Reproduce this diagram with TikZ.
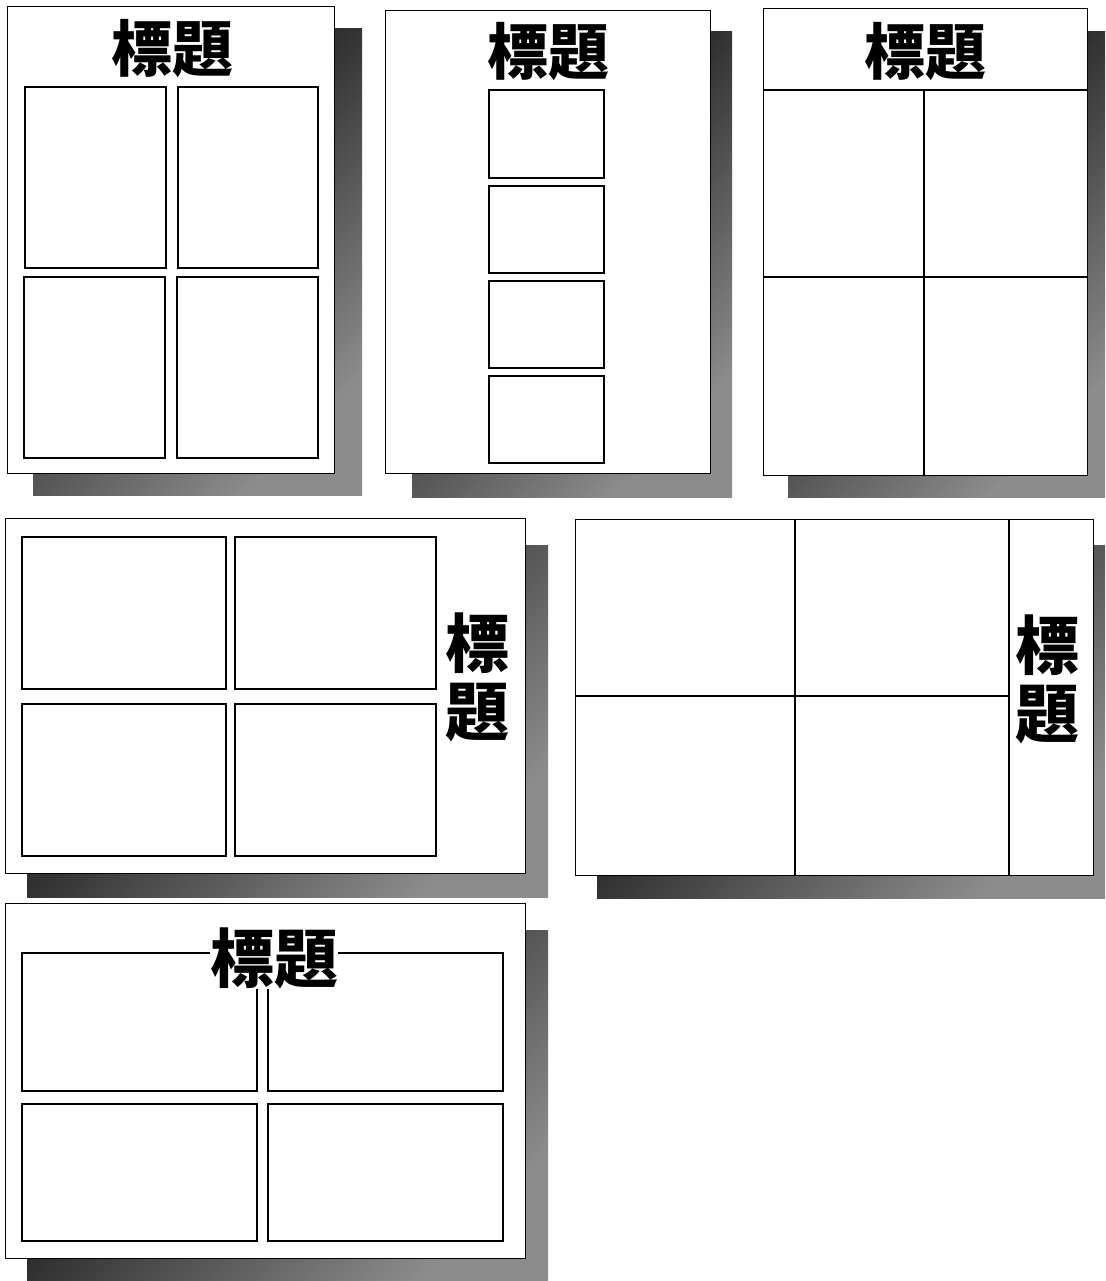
\documentclass[tikz,border=0pt]{standalone}
\usepackage{fontspec}
\newfontfamily\cjk{Noto Sans CJK JP}

\begin{document}
\begin{tikzpicture}[x=1pt, y=-1pt,
    pageshade/.style={top color=black, bottom color=black!45, shading angle=45, draw=none},
    page/.style={draw=black, fill=white, line width=1pt},
    panel/.style={draw=black, line width=1.2pt},
    divider/.style={draw=black, line width=1.1pt},
    title/.style={font=\cjk\bfseries\fontsize{61}{66}\selectfont, inner sep=0pt, text=black},
    vtitle/.style={title, font=\cjk\bfseries\fontsize{64}{68}\selectfont, align=center}
  ]
  \useasboundingbox (0,0) rectangle (1105,1281);

  % layout 1: title above four framed panels
  \shade[pageshade] (33,29) rectangle (362,495);
  \draw[page] (7,7) rectangle (334,473);
  \draw[panel] (25,87) rectangle (166,268);
  \draw[panel] (178,87) rectangle (318,268);
  \draw[panel] (24,277) rectangle (165,458);
  \draw[panel] (177,277) rectangle (318,458);
  \node[title] (head1) at (172,49) {標題};

  % layout 2: title above a column of panels
  \shade[pageshade] (412,32) rectangle (732,497);
  \draw[page] (385,11) rectangle (710,473);
  \foreach \top/\bot in {90/178, 186/273, 281/368, 376/463}
    \draw[panel] (489,\top) rectangle (604,\bot);
  \node[title] (head2) at (548,52) {標題};

  % layout 3: title band, page split in four
  \shade[pageshade] (788,32) rectangle (1105,497);
  \draw[page] (763,9) rectangle (1087,475);
  \draw[divider] (763,90) -- (1087,90);
  \draw[divider] (924,90) -- (924,475);
  \draw[divider] (763,277) -- (1087,277);
  \node[title] (head3) at (925,52) {標題};

  % layout 4: landscape, vertical title at the right
  \shade[pageshade] (27,545) rectangle (548,897);
  \draw[page] (5,518) rectangle (525,873);
  \draw[panel] (22,537) rectangle (226,689);
  \draw[panel] (235,537) rectangle (436,689);
  \draw[panel] (22,704) rectangle (226,856);
  \draw[panel] (235,704) rectangle (436,856);
  \node[vtitle] (head4) at (477,677) {標\\題};

  % layout 5: landscape split in four, title column
  \shade[pageshade] (597,545) rectangle (1105,898);
  \draw[page] (575,519) rectangle (1093,875);
  \draw[divider] (795,519) -- (795,875);
  \draw[divider] (1009,519) -- (1009,875);
  \draw[divider] (575,696) -- (1009,696);
  \node[vtitle] (head5) at (1047,679) {標\\題};

  % layout 6: title laid over the top panels
  \shade[pageshade] (27,930) rectangle (548,1281);
  \draw[page] (5,903) rectangle (525,1258);
  \draw[panel] (22,953) rectangle (257,1091);
  \draw[panel] (268,953) rectangle (503,1091);
  \draw[panel] (22,1104) rectangle (257,1241);
  \draw[panel] (268,1104) rectangle (503,1241);
  \node[title, font=\cjk\bfseries\fontsize{64}{68}\selectfont, fill=white] (head6) at (274,958) {標題};
\end{tikzpicture}
\end{document}
